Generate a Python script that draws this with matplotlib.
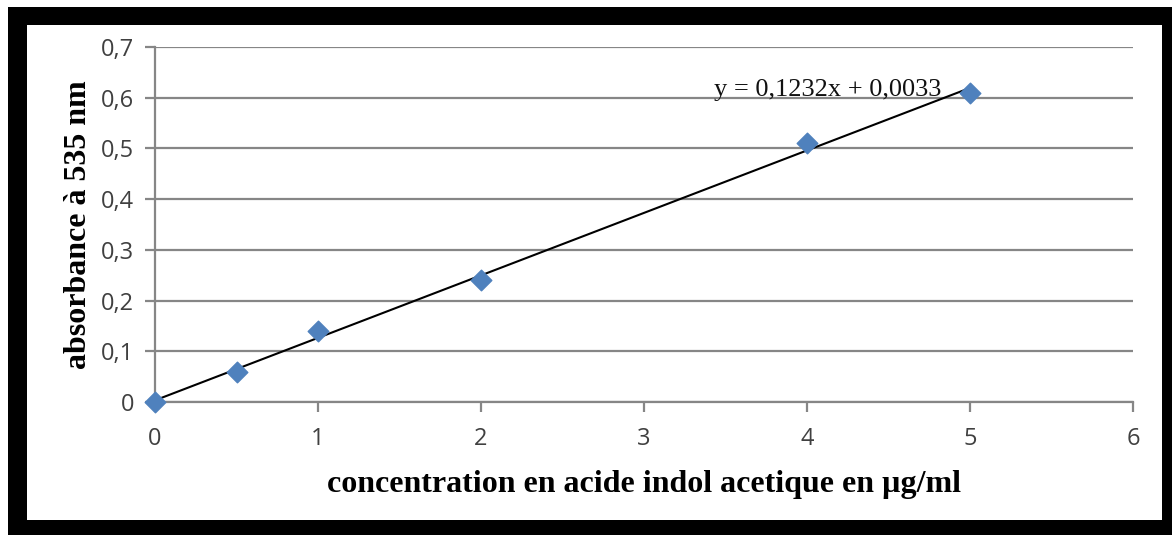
import numpy as np
import matplotlib.pyplot as plt
from matplotlib.patches import Rectangle

# donnees de la courbe d'etalonnage
conc = [0, 0.5, 1, 2, 4, 5]
absorb = [0.0, 0.06, 0.14, 0.24, 0.51, 0.61]
pente = 0.1232
ordonnee = 0.0033
y_ticks = [0, 0.1, 0.2, 0.3, 0.4, 0.5, 0.6, 0.7]
y_labels = ["0", "0,1", "0,2", "0,3", "0,4", "0,5", "0,6", "0,7"]
x_ticks = [0, 1, 2, 3, 4, 5, 6]

W, H = 1172, 535
fig = plt.figure(figsize=(W / 100, H / 100), dpi=100)

# cadre noir autour du graphique
def px(x0, y0, x1, y1):
    return (x0 / W, 1 - y1 / H), (x1 - x0) / W, (y1 - y0) / H

xy, w, h = px(8, 7, 1172, 535)
fig.add_artist(Rectangle(xy, w, h, transform=fig.transFigure, facecolor="black",
                         edgecolor="none", zorder=-10))
xy, w, h = px(27, 25, 1162, 520)
fig.add_artist(Rectangle(xy, w, h, transform=fig.transFigure, facecolor="white",
                         edgecolor="none", zorder=-9))

ax = fig.add_axes([155 / W, 1 - 402 / H, (1133 - 155) / W, (402 - 47) / H])
ax.set_facecolor("none")

gris = "#868686"
ax.set_xlim(0, 6)
ax.set_ylim(0, 0.7)
ax.set_yticks(y_ticks)
ax.set_yticklabels(y_labels)
ax.set_xticks(x_ticks)
ax.yaxis.grid(True, color=gris, linewidth=1.6)
ax.set_axisbelow(True)
for s in ["top", "right"]:
    ax.spines[s].set_visible(False)
for s in ["left", "bottom"]:
    ax.spines[s].set_color(gris)
    ax.spines[s].set_linewidth(1.6)
ax.tick_params(colors=gris, length=7, width=1.6, labelcolor="#404040", labelsize=17)
for lab in ax.get_xticklabels() + ax.get_yticklabels():
    lab.set_family("Open Sans")
ax.tick_params(axis="x", pad=11)
ax.tick_params(axis="y", pad=8)

# droite de regression
xl = np.array([conc[0], conc[-1]])
ax.plot(xl, pente * xl + ordonnee, color="black", linewidth=1.5, zorder=3)
ax.scatter(conc, absorb, marker="D", s=110, color="#4F81BD", zorder=4, clip_on=False)

ax.text(3.43, 0.616, "y = 0,1232x + 0,0033", fontsize=19, family="Liberation Serif",
        va="center", ha="left", color="#111111")

ax.set_xlabel("concentration en acide indol acetique en µg/ml", fontsize=23,
              family="Liberation Serif", fontweight="bold", labelpad=14)
ax.set_ylabel("absorbance à 535 nm", fontsize=23, family="Liberation Serif",
              fontweight="bold", labelpad=6)

fig.savefig("out.png", dpi=100)
